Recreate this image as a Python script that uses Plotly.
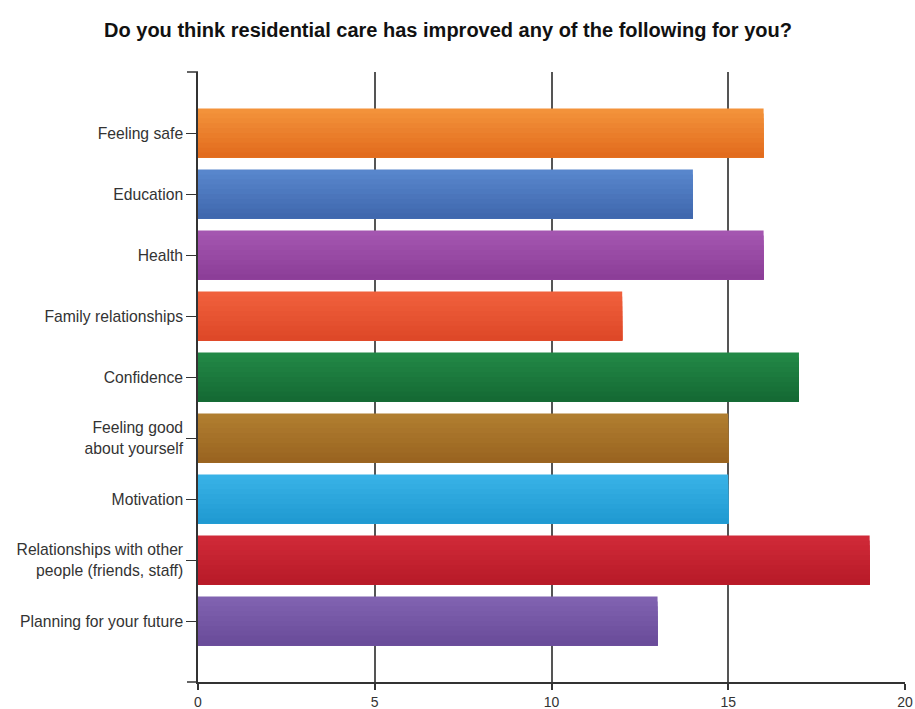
import plotly.graph_objects as go

categories = [
    "Feeling safe",
    "Education",
    "Health",
    "Family relationships",
    "Confidence",
    "Feeling good<br>about yourself",
    "Motivation",
    "Relationships with other<br>people (friends, staff)",
    "Planning for your future",
]
values = [16, 14, 16, 12, 17, 15, 15, 19, 13]
top_colors = ["#F3923A", "#5886CC", "#A456B0", "#F0603C", "#228846",
              "#B07E30", "#38B2E6", "#D02A38", "#8062B0"]
bottom_colors = ["#E26C1E", "#4068AE", "#8C3E98", "#DE4828", "#156A34",
                 "#9A6420", "#209AD2", "#B81A28", "#6A4C9A"]
x_ticks = [0, 5, 10, 15, 20]


def hex_to_rgb(h):
    h = h.lstrip("#")
    return tuple(int(h[i:i + 2], 16) for i in (0, 2, 4))


def mix(c1, c2, t):
    a, b = hex_to_rgb(c1), hex_to_rgb(c2)
    return "rgb(%d,%d,%d)" % tuple(round(a[i] + (b[i] - a[i]) * t) for i in range(3))


fig = go.Figure()
bar_w = 0.8
n_slices = 10
sw = bar_w / n_slices
for k in range(n_slices):
    t = k / (n_slices - 1)
    fig.add_trace(go.Bar(
        y=categories,
        x=values,
        orientation="h",
        width=bar_w - k * sw,
        offset=-bar_w / 2 + k * sw,
        marker=dict(color=[mix(tc, bc, t) for tc, bc in zip(top_colors, bottom_colors)],
                    line=dict(width=0)),
        showlegend=False,
        hoverinfo="x+y",
    ))

fig.update_layout(
    width=915, height=709,
    barmode="overlay",
    paper_bgcolor="white",
    plot_bgcolor="white",
    margin=dict(l=198, r=10, t=72, b=27, autoexpand=False),
    font=dict(family="Liberation Sans, Arial, sans-serif", color="#222", size=14),
    title=dict(
        text="<b>Do you think residential care has improved any of the following for you?</b>",
        x=448 / 915, xanchor="center", y=1 - 30 / 709, yref="container", yanchor="middle",
        font=dict(size=20, color="#111", family="Liberation Sans, Arial, sans-serif"),
    ),
    xaxis=dict(
        range=[0, 20], tickvals=x_ticks, ticktext=[str(v) for v in x_ticks],
        showgrid=True, gridcolor="#555", gridwidth=1.5,
        showline=True, linecolor="#333", linewidth=1.5,
        ticks="outside", ticklen=6, tickcolor="#333", tickwidth=1.5,
        zeroline=False, tickfont=dict(size=14, color="#333"),
        ticklabelstandoff=0,
        layer="below traces", automargin=False,
    ),
    yaxis=dict(
        categoryorder="array", categoryarray=categories,
        range=[len(categories), -1],
        showline=True, linecolor="#333", linewidth=1.5,
        ticks="outside", ticklen=10, tickcolor="#333", tickwidth=1.2,
        showgrid=False, zeroline=False,
        tickfont=dict(size=15.7, color="#333"),
        ticklabelstandoff=0, automargin=False,
    ),
    shapes=[
        dict(type="line", xref="paper", yref="paper", x0=-11 / 707, x1=0, y0=1, y1=1,
             line=dict(color="#333", width=1.5)),
        dict(type="line", xref="paper", yref="paper", x0=-11 / 707, x1=0, y0=0, y1=0,
             line=dict(color="#333", width=1.5)),
    ],
)

fig.write_html(
    "out.html",
    config={"displayModeBar": False},
    post_script="document.body.style.margin='0';document.body.style.overflow='hidden';",
)
